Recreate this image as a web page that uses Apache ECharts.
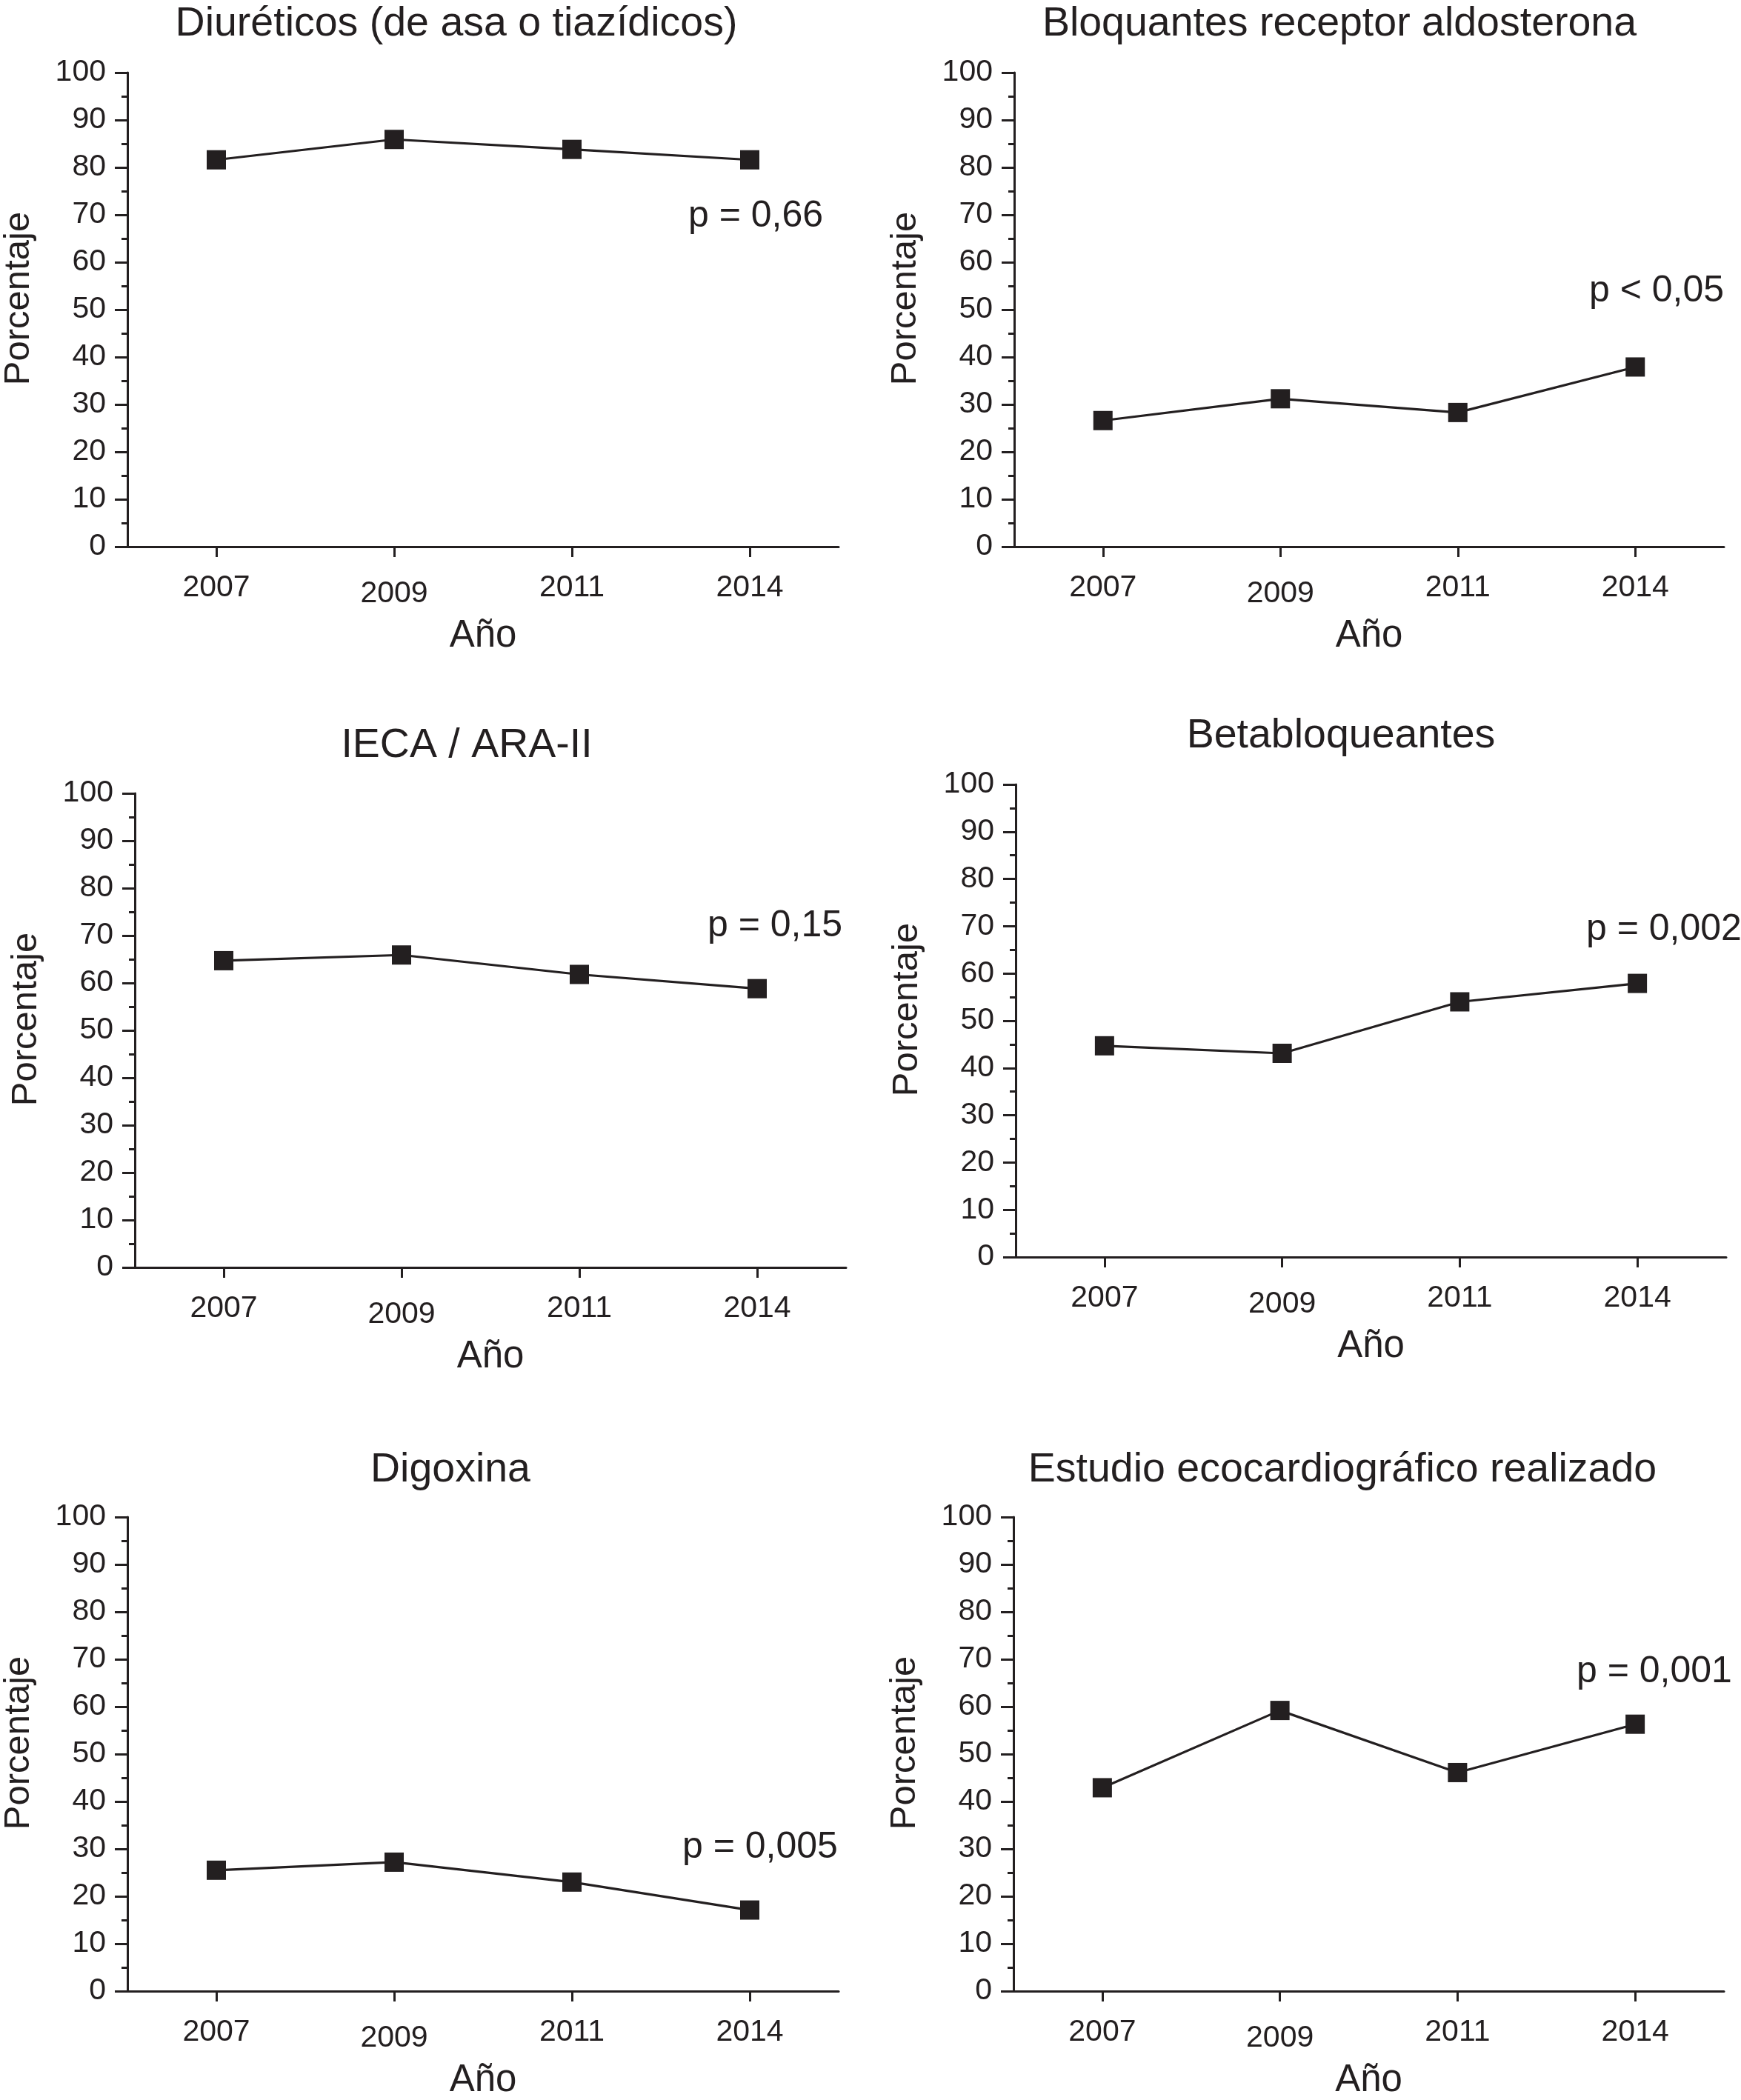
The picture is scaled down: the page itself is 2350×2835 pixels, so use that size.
<!DOCTYPE html>
<html>
<head>
<meta charset="utf-8">
<script src="https://cdn.jsdelivr.net/npm/echarts@6/dist/echarts.min.js"></script>
<style>
  html, body { margin: 0; padding: 0; background: #ffffff; }
  #chart { width: 2350px; height: 2835px; }
</style>
</head>
<body>
<div id="chart"></div>
<script>
// ---- Data ----
const categories = ['2007', '2009', '2011', '2014'];
const yTicks = [0, 10, 20, 30, 40, 50, 60, 70, 80, 90, 100];

const panelTitles = [
  'Diuréticos (de asa o tiazídicos)',
  'Bloquantes receptor aldosterona',
  'IECA / ARA-II',
  'Betabloqueantes',
  'Digoxina',
  'Estudio ecocardiográfico realizado'
];
const pValues = ['p = 0,66', 'p < 0,05', 'p = 0,15', 'p = 0,002', 'p = 0,005', 'p = 0,001'];

const diureticos = [81.6, 85.9, 83.8, 81.6];
const bloqueantesAldosterona = [26.6, 31.2, 28.3, 37.9];
const iecaAra = [64.7, 65.9, 61.8, 58.8];
const betabloqueantes = [44.7, 43.1, 54.0, 57.9];
const digoxina = [25.5, 27.2, 23.0, 17.1];
const ecocardiografico = [42.9, 59.2, 46.1, 56.3];

const seriesData = [diureticos, bloqueantesAldosterona, iecaAra, betabloqueantes, digoxina, ecocardiografico];

const yAxisName = 'Porcentaje';
const xAxisName = 'Año';

// ---- Layout (pixels) ----
const grids = [
  { left: 172,  top: 98,   width: 960, height: 640 },
  { left: 1369, top: 98,   width: 958, height: 640 },
  { left: 182,  top: 1071, width: 960, height: 640 },
  { left: 1371, top: 1059, width: 959, height: 638 },
  { left: 172,  top: 2048, width: 960, height: 640 },
  { left: 1368, top: 2048, width: 959, height: 640 }
];
const titlePos = [[616, 33], [1808, 33], [630, 1007], [1810, 994], [608, 1985], [1812, 1985]];
const pPos = [[929, 292], [2145, 393], [955, 1250], [2141, 1255], [921, 2494], [2128, 2257]];

const INK = '#231f20';
const FONT = '"Liberation Sans", Arial, Helvetica, sans-serif';

const chart = echarts.init(document.getElementById('chart'), null, { renderer: 'canvas' });

const option = {
  backgroundColor: '#ffffff',
  animation: false,
  grid: grids.map(g => Object.assign({ containLabel: false }, g)),
  xAxis: grids.map((g, i) => ({
    type: 'category',
    gridIndex: i,
    data: categories.map(c => c === '2009'
      ? { value: c, textStyle: { padding: [8, 0, 0, 0] } }
      : c),
    boundaryGap: true,
    name: xAxisName,
    nameLocation: 'middle',
    nameGap: 95,
    nameTextStyle: { fontFamily: FONT, fontSize: 51, color: INK },
    axisLine: { show: true, lineStyle: { color: INK, width: 3 } },
    axisTick: { show: true, alignWithLabel: true, length: 14, lineStyle: { color: INK, width: 3 } },
    axisLabel: { show: true, margin: 35, fontFamily: FONT, fontSize: 41, color: INK },
    splitLine: { show: false }
  })),
  yAxis: grids.map((g, i) => ({
    type: 'value',
    gridIndex: i,
    min: yTicks[0],
    max: yTicks[yTicks.length - 1],
    interval: yTicks[1] - yTicks[0],
    name: yAxisName,
    nameLocation: 'middle',
    nameRotate: 90,
    nameGap: 122,
    nameTextStyle: { fontFamily: FONT, fontSize: 49, color: INK, padding: [0, 0, 0, 30] },
    axisLine: { show: true, lineStyle: { color: INK, width: 3 } },
    axisTick: { show: true, length: 17, lineStyle: { color: INK, width: 3 } },
    minorTick: { show: true, splitNumber: 2, length: 8, lineStyle: { color: INK, width: 3 } },
    axisLabel: { show: true, margin: 29, fontFamily: FONT, fontSize: 41, color: INK },
    splitLine: { show: false },
    minorSplitLine: { show: false }
  })),
  series: seriesData.map((d, i) => ({
    type: 'line',
    xAxisIndex: i,
    yAxisIndex: i,
    data: d,
    symbol: 'rect',
    symbolSize: 26,
    showSymbol: true,
    itemStyle: { color: INK },
    lineStyle: { color: INK, width: 3.2 },
    z: 5
  })),
  graphic: [].concat(
    panelTitles.map((t, i) => ({
      type: 'text',
      x: titlePos[i][0],
      y: titlePos[i][1],
      style: { text: t, fontFamily: FONT, fontSize: 55.5, fill: INK, align: 'center', verticalAlign: 'middle' }
    })),
    pValues.map((t, i) => ({
      type: 'text',
      x: pPos[i][0],
      y: pPos[i][1],
      style: { text: t, fontFamily: FONT, fontSize: 50, fill: INK, align: 'left', verticalAlign: 'middle' }
    }))
  )
};

chart.setOption(option);
</script>
</body>
</html>
